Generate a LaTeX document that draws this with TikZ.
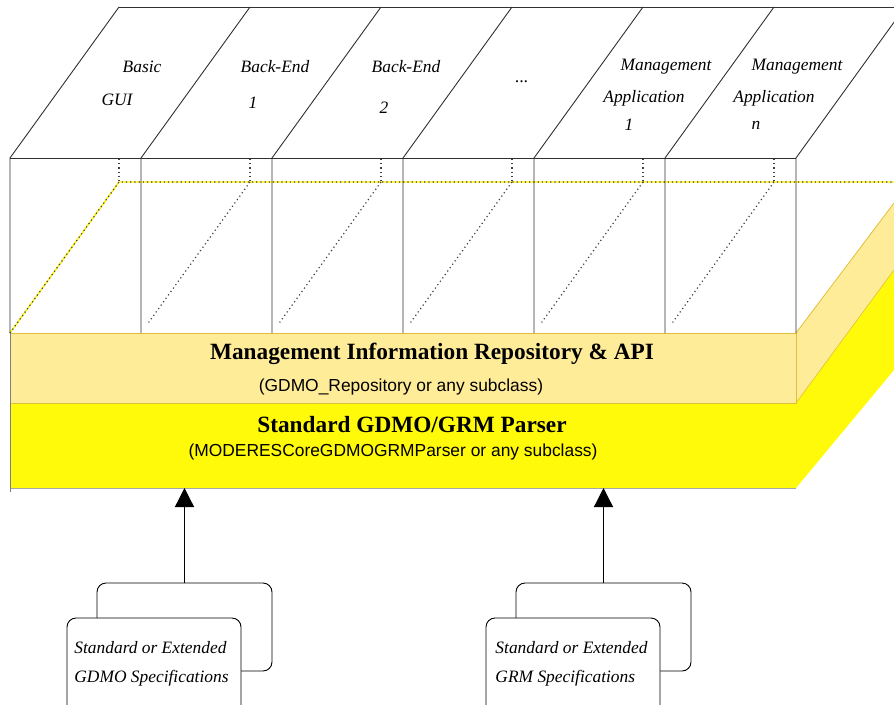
\documentclass[tikz,border=0pt]{standalone}
\usepackage{fontspec}
\setmainfont{Liberation Serif}
\setsansfont{Liberation Sans}
\usetikzlibrary{arrows.meta,calc}
\definecolor{lightyel}{HTML}{FFEC99}
\definecolor{brightyel}{HTML}{FFFA0A}
\definecolor{goldedge}{HTML}{E0BE3A}
\definecolor{dotgray}{HTML}{404040}
\definecolor{framegray}{HTML}{303030}
\begin{document}
\begin{tikzpicture}[x=1pt,y=-1pt,line width=0.9pt,
  lbl/.style={font=\fontsize{17.4}{21}\selectfont\itshape,inner sep=0pt},
  spectext/.style={font=\fontsize{17.4}{29}\selectfont\itshape,inner sep=0pt,align=left},
  title/.style={font=\fontsize{23.3}{26}\selectfont\bfseries,inner sep=0pt},
  sub/.style={font=\sffamily\fontsize{17.4}{20}\selectfont,inner sep=0pt},
  layer/.style={minimum width=786pt,inner sep=0pt,anchor=north west,outer sep=0pt},
  frame/.style={draw=framegray,line width=0.9pt},
  dots/.style={dotgray,line width=1.2pt,dash pattern=on 1.2pt off 3pt},
  specbox/.style={draw,line width=0.9pt,rounded corners=9pt,fill=white,minimum width=175pt,inner sep=0pt,anchor=north west,outer sep=0pt},
  arrow/.style={-{Triangle[width=19pt,length=19pt]},line width=1.3pt}
]
\useasboundingbox (0,0) rectangle (894,704);
\clip (0,0) rectangle (894,704);

% ---- side faces of the layers
\fill[lightyel] (796,333) -- (894,203) -- (894,270) -- (796,403) -- cycle;
\draw[goldedge,line width=0.8pt] (796,333) -- (894,203);
\fill[brightyel] (796,403) -- (894,270) -- (894,370) -- (796,488) -- cycle;
\draw[goldedge,line width=0.6pt] (796,403) -- (894,270);

% ---- front faces of the layers
\node[layer,fill=lightyel,draw=goldedge,line width=0.8pt,minimum height=70pt] (mir) at (10,333) {};
\node[layer,fill=brightyel,minimum height=85pt] (parser) at (10,403) {};
\draw[goldedge,line width=0.8pt] (parser.north west) -- (parser.north east);
\draw[gray!70,line width=0.8pt] (parser.south west) -- (parser.south east);
\draw[gray,line width=0.9pt] (mir.north west) -- ++(0,159);

\node[title] (mirtitle) at (432,354) {Management Information Repository \& API};
\node[sub] (mirsub) at (401,387) {(GDMO\_Repository or any subclass)};
\node[title] (partitle) at (412,425) {Standard GDMO/GRM Parser};
\node[sub] (parsub) at (393,452) {(MODERESCoreGDMOGRMParser or any subclass)};

% ---- top face of the repository layer (hidden edges)
\draw[yellow,line width=1.4pt] (10,333) -- (119,182) -- (905,182);
\draw[dots] (10,333) -- (119,182) -- (905,182);
\foreach \x in {10,141,272,403,534,665} {
  \draw[dots] (\x+109,159) -- (\x+109,182);
}
\foreach \x in {141,272,403,534,665} {
  \draw[dots] (\x+109,182) -- ($(\x+109,182)!0.93!(\x,333)$);
}

% ---- application columns
\foreach \x in {10,141,272,403,534,665,796} {
  \draw[frame] (\x,333) -- (\x,158) -- ++(109,-151);
}
\draw[frame] (10,158) -- (796,158);
\draw[frame] (119,7) -- (905,7);

\node[lbl] (l1a) at (142,67) {Basic};
\node[lbl] (l1b) at (117,100) {GUI};
\node[lbl] (l2a) at (275,67) {Back-End};
\node[lbl] (l2b) at (253,103) {1};
\node[lbl] (l3a) at (406,67) {Back-End};
\node[lbl] (l3b) at (384,108) {2};
\node[lbl] (l4a) at (522,82) {...};
\node[lbl] (l5a) at (666,67) {Management};
\node[lbl] (l5b) at (644,98) {Application};
\node[lbl] (l5c) at (629,125) {1};
\node[lbl] (l6a) at (797,67) {Management};
\node[lbl] (l6b) at (774,98) {Application};
\node[lbl] (l6c) at (756,125) {n};

% ---- specification documents
\node[specbox,minimum height=88pt] (gdmoback) at (97,583) {};
\node[specbox,minimum width=174pt,minimum height=110pt] (gdmofront) at (67,618) {};
\node[spectext] (gdmotext) at (151.5,664) {Standard or Extended\\GDMO Specifications};

\node[specbox,minimum height=88pt] (grmback) at (516,583) {};
\node[specbox,minimum width=174pt,minimum height=110pt] (grmfront) at (486,618) {};
\node[spectext] (grmtext) at (571.5,664) {Standard or Extended\\GRM Specifications};

\draw[arrow] (gdmoback.north) -- (gdmoback.north |- parser.south);
\draw[arrow] (grmback.north) -- (grmback.north |- parser.south);
\end{tikzpicture}
\end{document}
